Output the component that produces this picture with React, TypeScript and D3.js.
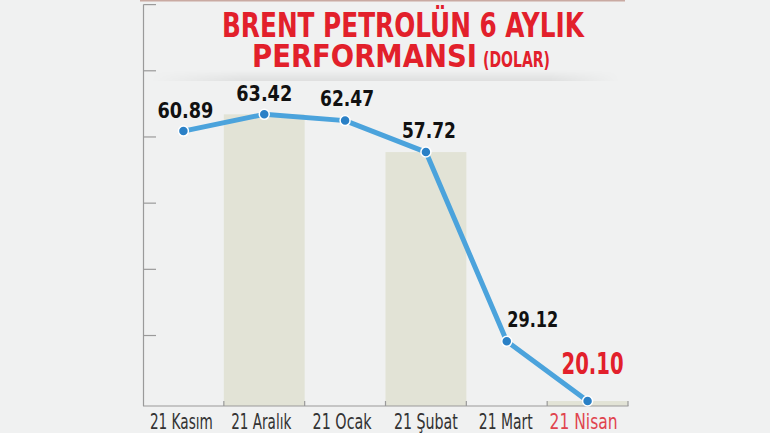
import React from 'react';
import * as d3 from 'd3';

const categories = ['21 Kasım', '21 Aralık', '21 Ocak', '21 Şubat', '21 Mart', '21 Nisan'];
const prices = [60.89, 63.42, 62.47, 57.72, 29.12, 20.1];
const priceLabels = ['60.89', '63.42', '62.47', '57.72', '29.12', '20.10'];
const shadedMonths = ['21 Aralık', '21 Şubat', '21 Nisan'];
const highlightMonth = '21 Nisan';
const yTicks = [30, 40, 50, 60, 70, 80];
const titleLine1 = 'BRENT PETROLÜN 6 AYLIK';
const titleLine2 = 'PERFORMANSI';
const titleUnit = '(DOLAR)';

const W = 770;
const H = 433;
const COND = '"DejaVu Sans Condensed", "Liberation Sans Narrow", "Liberation Sans", sans-serif';
const RED = '#e2202b';
const BG = '#f0f1f1';
const BAR = '#e2e3d6';
const LINE = '#4ba3dc';
const DOT = '#2a80c6';

// label styling (not data)
const labelDx = [2, 0, 2, 3, 26, 5];
const labelDy = [-13, -13, -14.5, -14, -14.5, -27];
const valueLabelWidth = [56, 56, 54, 54, 51, 62];
const axisLabelWidth = [63, 60, 59, 64, 54, 68];
const axisLabelDx = [-2, -3, -3, 0, -1, -4];

export default function App() {
  const x = d3.scaleBand<string>().domain(categories).range([143, 628]).padding(0);
  const y = d3.scaleLinear().domain([19.35, 80]).range([406, 4.6]);
  const base = y(19.35);
  const bw = x.bandwidth();
  const cx = (c: string) => (x(c) as number) + bw / 2;

  const pts: [number, number][] = categories.map((c, i) => [cx(c), y(prices[i])]);
  const line = d3.line().curve(d3.curveLinear)(pts) as string;

  return (
    <svg width={W} height={H} style={{ position: 'absolute', left: 0, top: 0, background: BG }}>
      <defs>
        <linearGradient id="shadowV" x1="0" y1="0" x2="0" y2="1">
          <stop offset="0" stopColor="#000" stopOpacity="0" />
          <stop offset="1" stopColor="#000" stopOpacity="0.07" />
        </linearGradient>
        <linearGradient id="shadowH" x1="0" y1="0" x2="1" y2="0">
          <stop offset="0" stopColor="#fff" stopOpacity="0" />
          <stop offset="0.2" stopColor="#fff" stopOpacity="1" />
          <stop offset="0.85" stopColor="#fff" stopOpacity="1" />
          <stop offset="1" stopColor="#fff" stopOpacity="0" />
        </linearGradient>
        <mask id="shadowMask">
          <rect x={150} y={68} width={470} height={14} fill="url(#shadowH)" />
        </mask>
      </defs>
      <rect x={0} y={0} width={W} height={H} fill={BG} />
      <rect x={140} y={0} width={485} height={1.5} fill="#c9aaa2" />
      <rect x={150} y={70} width={470} height={11} fill="url(#shadowV)" mask="url(#shadowMask)" />

      {/* shaded columns */}
      {categories.map((c, i) =>
        shadedMonths.includes(c) ? (
          <rect key={c} x={x(c)} y={y(prices[i])} width={bw} height={base - y(prices[i])} fill={BAR} />
        ) : null
      )}

      {/* y axis */}
      <line x1={143.5} x2={143.5} y1={y(80)} y2={base} stroke="#9a9a9a" strokeWidth={1.2} />
      {yTicks.map((t) => (
        <line key={t} x1={143.5} x2={156} y1={y(t)} y2={y(t)} stroke="#9a9a9a" strokeWidth={1.2} />
      ))}

      {/* x axis */}
      <line x1={143} x2={628.5} y1={base} y2={base} stroke="#9a9a9a" strokeWidth={1.2} />
      {categories.map((c) => (
        <line key={c} x1={(x(c) as number) + bw} x2={(x(c) as number) + bw} y1={base} y2={base - 5} stroke="#9a9a9a" strokeWidth={1.2} />
      ))}
      {categories.map((c, i) => (
        <text
          key={c}
          x={cx(c) + axisLabelDx[i]}
          y={429}
          textAnchor="middle"
          fontFamily={COND}
          fontSize={21}
          textLength={axisLabelWidth[i]}
          lengthAdjust="spacingAndGlyphs"
          fill={c === highlightMonth ? '#e0444e' : '#333'}
        >
          {c}
        </text>
      ))}

      {/* line */}
      <path d={line} fill="none" stroke={LINE} strokeWidth={5} strokeLinejoin="round" strokeLinecap="round" />
      {pts.map((p, i) => (
        <circle key={i} cx={p[0]} cy={p[1]} r={5} fill={DOT} stroke="#fff" strokeWidth={1.5} />
      ))}

      {/* value labels */}
      {pts.map((p, i) => (
        <text
          key={i}
          x={p[0] + labelDx[i]}
          y={p[1] + labelDy[i]}
          textAnchor="middle"
          fontFamily={COND}
          fontWeight="bold"
          fontSize={categories[i] === highlightMonth ? 30 : 21}
          textLength={valueLabelWidth[i]}
          lengthAdjust="spacingAndGlyphs"
          fill={categories[i] === highlightMonth ? RED : '#111'}
        >
          {priceLabels[i]}
        </text>
      ))}

      {/* title */}
      <text fontFamily={COND} fontWeight="bold" fill={RED}>
        <tspan x={222} y={37} fontSize={33} textLength={362} lengthAdjust="spacingAndGlyphs">
          {titleLine1}
        </tspan>
        <tspan x={252} y={67} fontSize={32} textLength={225} lengthAdjust="spacingAndGlyphs">
          {titleLine2}
        </tspan>
        <tspan x={483} y={67} fontSize={21} textLength={67} lengthAdjust="spacingAndGlyphs">
          {titleUnit}
        </tspan>
      </text>
    </svg>
  );
}
